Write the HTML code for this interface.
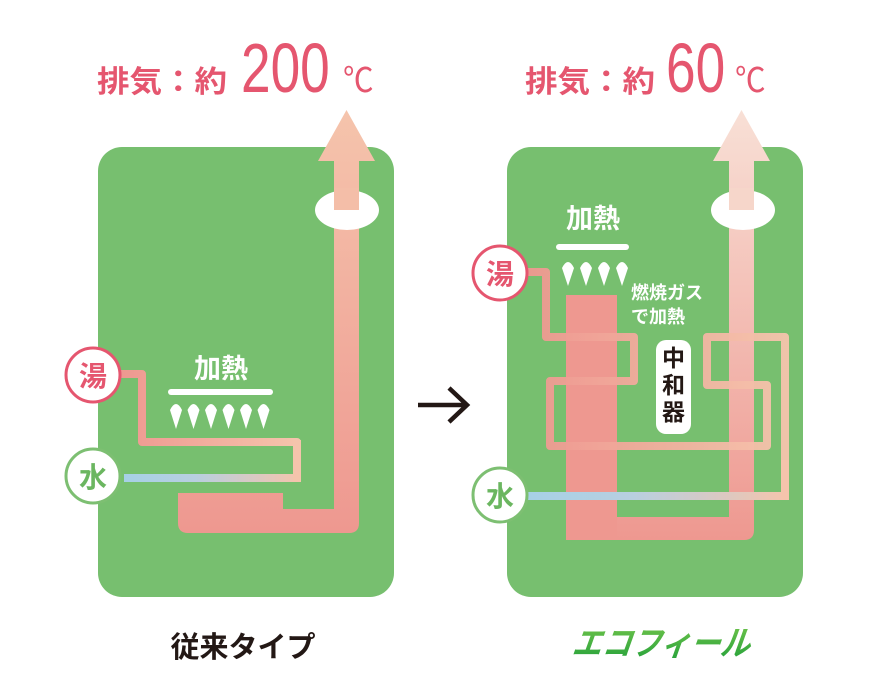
<!DOCTYPE html>
<html><head><meta charset="utf-8"><style>
html,body{margin:0;padding:0;background:#fff;width:870px;height:700px;overflow:hidden}
svg{display:block}
text{font-family:"Liberation Sans","Noto Sans CJK JP",sans-serif}
</style></head><body>
<svg width="870" height="700" viewBox="0 0 870 700" xmlns="http://www.w3.org/2000/svg">
<defs>
<linearGradient id="chim" x1="0" y1="1" x2="0" y2="0">
<stop offset="0" stop-color="#ee9890"/><stop offset="1" stop-color="#f5c4ac"/></linearGradient>
<linearGradient id="chim2" x1="0" y1="1" x2="0" y2="0">
<stop offset="0" stop-color="#ee9890"/><stop offset="1" stop-color="#f8e0d6"/></linearGradient>
<linearGradient id="hot" x1="0" y1="0" x2="1" y2="0">
<stop offset="0" stop-color="#ee9890"/><stop offset="1" stop-color="#f5c4ac"/></linearGradient>
<linearGradient id="water" x1="0" y1="0" x2="1" y2="0">
<stop offset="0" stop-color="#a6d0e6"/><stop offset="0.4" stop-color="#b8cfe0"/><stop offset="1" stop-color="#f5c4ac"/></linearGradient>
<linearGradient id="leaf" x1="0" y1="0" x2="0" y2="1">
<stop offset="0" stop-color="#6cc24a"/><stop offset="1" stop-color="#22a03a"/></linearGradient>
</defs>

<text x="97" y="92" font-size="30" font-weight="bold" fill="#e5566f" textLength="130" lengthAdjust="spacingAndGlyphs">排気：約</text>
<text transform="translate(241 92) scale(0.76 1)" font-size="70" fill="#e5566f">200</text>
<text transform="translate(343 92) scale(0.9 1)" font-size="34" fill="#e5566f">℃</text>
<text x="525" y="92" font-size="30" font-weight="bold" fill="#e5566f" textLength="130" lengthAdjust="spacingAndGlyphs">排気：約</text>
<text transform="translate(666 92) scale(0.76 1)" font-size="70" fill="#e5566f">60</text>
<text transform="translate(735 92) scale(0.9 1)" font-size="34" fill="#e5566f">℃</text>

<!-- LEFT PANEL -->
<rect x="98" y="147" width="296" height="450" rx="24" fill="#77bf6f"/>
<path d="M178 493 H283 V509 H334 V161 H318 L346.5 110 L375 161 H359 V523 Q359 533 349 533 H188 Q178 533 178 523 Z" fill="url(#chim)"/>
<ellipse cx="347" cy="210" rx="32" ry="20" fill="#fff"/>
<rect x="334" y="188" width="25" height="22" fill="#f4bea8"/>
<path d="M120 374 H142 V442 H297 V478" fill="none" stroke="url(#hot)" stroke-width="8" stroke-linejoin="round"/>
<rect x="124" y="474" width="177" height="8" fill="url(#water)"/>
<rect x="293" y="440" width="8" height="42" fill="#f5c4ac"/>
<circle cx="93" cy="375" r="27" fill="#fff" stroke="#e5566f" stroke-width="3"/>
<text x="93" y="386" font-size="28" font-weight="bold" fill="#e5566f" text-anchor="middle">湯</text>
<circle cx="93" cy="476" r="27" fill="#fff" stroke="#7dbf72" stroke-width="3"/>
<text x="93" y="487" font-size="28" font-weight="bold" fill="#6bb660" text-anchor="middle">水</text>
<text x="221" y="378" font-size="27" font-weight="bold" fill="#fff" text-anchor="middle">加熱</text>
<rect x="168" y="389" width="105" height="6" rx="3" fill="#fff"/>
<g fill="#fff">
<path d="M176 429 L170 410 Q176 398 182 410 Z"/>
<path d="M193.5 429 L187.5 410 Q193.5 398 199.5 410 Z"/>
<path d="M211 429 L205 410 Q211 398 217 410 Z"/>
<path d="M228.5 429 L222.5 410 Q228.5 398 234.5 410 Z"/>
<path d="M246 429 L240 410 Q246 398 252 410 Z"/>
<path d="M263.5 429 L257.5 410 Q263.5 398 269.5 410 Z"/>
</g>

<path d="M418 405 H466 M449 388 L467 405 L449 422" fill="none" stroke="#231815" stroke-width="4.5"/>

<!-- RIGHT PANEL -->
<rect x="507" y="147" width="296" height="450" rx="24" fill="#77bf6f"/>
<path d="M566 295 H617 V517 H729 V161 H713 L741.5 110 L770 161 H754 V530 Q754 540 744 540 H576 Q566 540 566 530 Z" fill="url(#chim2)"/>
<rect x="566" y="295" width="51" height="245" fill="#ee9890"/>
<ellipse cx="743" cy="210" rx="32" ry="20" fill="#fff"/>
<rect x="729" y="188" width="25" height="22" fill="#f6d6ca"/>
<path d="M527 272 H546 V337 H634 V381 H550 V446 H767 V385 H707 V337 H785 V496" fill="none" stroke="url(#hot)" stroke-width="8" stroke-linejoin="round" opacity="0.95"/>
<rect x="528" y="492" width="261" height="8" fill="url(#water)"/>
<rect x="781" y="460" width="8" height="40" fill="#f5c4ac"/>
<circle cx="500" cy="273" r="27" fill="#fff" stroke="#e5566f" stroke-width="3"/>
<text x="500" y="284" font-size="28" font-weight="bold" fill="#e5566f" text-anchor="middle">湯</text>
<circle cx="500" cy="495" r="27" fill="#fff" stroke="#7dbf72" stroke-width="3"/>
<text x="500" y="506" font-size="28" font-weight="bold" fill="#6bb660" text-anchor="middle">水</text>
<text x="593" y="228" font-size="27" font-weight="bold" fill="#fff" text-anchor="middle">加熱</text>
<rect x="556" y="244" width="73" height="6" rx="3" fill="#fff"/>
<g fill="#fff">
<path d="M568 286 L562 268 Q568 256 574 268 Z"/>
<path d="M586 286 L580 268 Q586 256 592 268 Z"/>
<path d="M604 286 L598 268 Q604 256 610 268 Z"/>
<path d="M622 286 L616 268 Q622 256 628 268 Z"/>
</g>
<text x="631" y="299" font-size="18" font-weight="bold" fill="#fff">燃焼ガス</text>
<text x="631" y="323" font-size="18" font-weight="bold" fill="#fff">で加熱</text>
<rect x="656" y="340" width="35" height="94" rx="10" fill="#fff"/>
<text x="673.5" y="366" font-size="23" font-weight="bold" fill="#231815" text-anchor="middle">中</text>
<text x="673.5" y="393" font-size="23" font-weight="bold" fill="#231815" text-anchor="middle">和</text>
<text x="673.5" y="420" font-size="23" font-weight="bold" fill="#231815" text-anchor="middle">器</text>

<text x="243" y="657" font-size="29" font-weight="bold" fill="#231815" text-anchor="middle">従来タイプ</text>
<text x="660" y="655" font-size="34" font-weight="bold" font-style="italic" fill="url(#leaf)" text-anchor="middle" textLength="178" lengthAdjust="spacingAndGlyphs" transform="skewX(-8) translate(92 0)">エコフィール</text>
</svg>
</body></html>
